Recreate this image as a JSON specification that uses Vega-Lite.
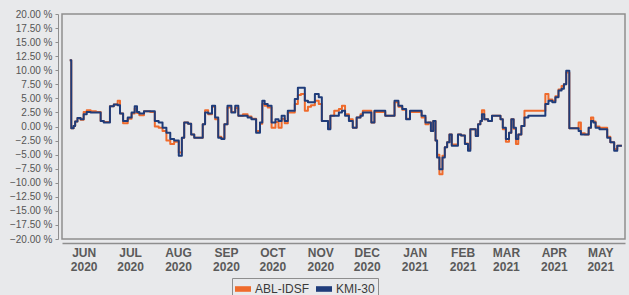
{
  "$schema": "https://vega.github.io/schema/vega-lite/v6.json",
  "width": 563,
  "height": 225,
  "autosize": {"type": "none"},
  "padding": {"left": 62, "top": 14, "right": 4, "bottom": 56},
  "background": "#e8e9eb",
  "config": {
    "view": {"stroke": "#8e8e8e", "strokeWidth": 1.5},
    "font": "Liberation Sans"
  },
  "data": {
    "values": [
      {"date": "2020-06-06", "ABL-IDSF": 11.8, "KMI-30": 11.8},
      {"date": "2020-06-08", "ABL-IDSF": -0.3, "KMI-30": -0.3},
      {"date": "2020-06-09", "ABL-IDSF": 0.1, "KMI-30": 0.1},
      {"date": "2020-06-10", "ABL-IDSF": 0.9, "KMI-30": 0.9},
      {"date": "2020-06-12", "ABL-IDSF": 1.5, "KMI-30": 1.5},
      {"date": "2020-06-14", "ABL-IDSF": 1.2, "KMI-30": 1.3},
      {"date": "2020-06-16", "ABL-IDSF": 2.6, "KMI-30": 2.2},
      {"date": "2020-06-18", "ABL-IDSF": 2.9, "KMI-30": 2.6},
      {"date": "2020-06-21", "ABL-IDSF": 2.7, "KMI-30": 2.5},
      {"date": "2020-06-25", "ABL-IDSF": 2.6, "KMI-30": 2.5},
      {"date": "2020-06-27", "ABL-IDSF": 1.0, "KMI-30": 1.0},
      {"date": "2020-06-29", "ABL-IDSF": 0.8, "KMI-30": 0.7},
      {"date": "2020-07-01", "ABL-IDSF": 0.8, "KMI-30": 0.7},
      {"date": "2020-07-03", "ABL-IDSF": 3.6, "KMI-30": 3.6},
      {"date": "2020-07-06", "ABL-IDSF": 3.9, "KMI-30": 3.9},
      {"date": "2020-07-08", "ABL-IDSF": 4.6, "KMI-30": 3.8},
      {"date": "2020-07-09", "ABL-IDSF": 2.3, "KMI-30": 2.3},
      {"date": "2020-07-12", "ABL-IDSF": 0.6, "KMI-30": 1.0},
      {"date": "2020-07-15", "ABL-IDSF": 1.4, "KMI-30": 1.6},
      {"date": "2020-07-17", "ABL-IDSF": 2.3, "KMI-30": 2.5},
      {"date": "2020-07-19", "ABL-IDSF": 3.2, "KMI-30": 3.6},
      {"date": "2020-07-20", "ABL-IDSF": 2.4, "KMI-30": 2.6},
      {"date": "2020-07-22", "ABL-IDSF": 2.0, "KMI-30": 2.3},
      {"date": "2020-07-26", "ABL-IDSF": 2.7, "KMI-30": 2.7},
      {"date": "2020-07-30", "ABL-IDSF": 2.6, "KMI-30": 2.7},
      {"date": "2020-08-01", "ABL-IDSF": 0.0, "KMI-30": 1.0},
      {"date": "2020-08-04", "ABL-IDSF": -0.2, "KMI-30": 0.7},
      {"date": "2020-08-06", "ABL-IDSF": -0.8, "KMI-30": -0.2},
      {"date": "2020-08-09", "ABL-IDSF": -2.5, "KMI-30": -1.1},
      {"date": "2020-08-11", "ABL-IDSF": -3.1, "KMI-30": -2.2},
      {"date": "2020-08-14", "ABL-IDSF": -2.7, "KMI-30": -2.5},
      {"date": "2020-08-17", "ABL-IDSF": -4.6, "KMI-30": -5.2},
      {"date": "2020-08-18", "ABL-IDSF": -2.0, "KMI-30": -2.0},
      {"date": "2020-08-20", "ABL-IDSF": 0.7, "KMI-30": 0.7},
      {"date": "2020-08-23", "ABL-IDSF": 0.5, "KMI-30": 0.5},
      {"date": "2020-08-24", "ABL-IDSF": -1.4, "KMI-30": -1.4},
      {"date": "2020-08-27", "ABL-IDSF": -2.0, "KMI-30": -2.0},
      {"date": "2020-08-30", "ABL-IDSF": -2.0, "KMI-30": -2.0},
      {"date": "2020-09-01", "ABL-IDSF": 0.4, "KMI-30": 0.4},
      {"date": "2020-09-02", "ABL-IDSF": 2.9, "KMI-30": 2.5},
      {"date": "2020-09-05", "ABL-IDSF": 2.2, "KMI-30": 2.3},
      {"date": "2020-09-07", "ABL-IDSF": 3.5, "KMI-30": 3.7},
      {"date": "2020-09-09", "ABL-IDSF": 1.3, "KMI-30": 1.6},
      {"date": "2020-09-11", "ABL-IDSF": -1.8, "KMI-30": -2.0},
      {"date": "2020-09-13", "ABL-IDSF": -2.1, "KMI-30": -2.2},
      {"date": "2020-09-15", "ABL-IDSF": 0.4, "KMI-30": 0.4},
      {"date": "2020-09-17", "ABL-IDSF": 3.4, "KMI-30": 3.7},
      {"date": "2020-09-20", "ABL-IDSF": 2.6, "KMI-30": 2.5},
      {"date": "2020-09-22", "ABL-IDSF": 3.3, "KMI-30": 3.7},
      {"date": "2020-09-24", "ABL-IDSF": 1.9, "KMI-30": 1.9},
      {"date": "2020-09-28", "ABL-IDSF": 2.2, "KMI-30": 1.9},
      {"date": "2020-09-30", "ABL-IDSF": 1.8, "KMI-30": 1.6},
      {"date": "2020-10-03", "ABL-IDSF": 1.4, "KMI-30": 1.3},
      {"date": "2020-10-06", "ABL-IDSF": -0.8, "KMI-30": -1.1},
      {"date": "2020-10-08", "ABL-IDSF": 0.5, "KMI-30": 0.7},
      {"date": "2020-10-09", "ABL-IDSF": 4.0, "KMI-30": 4.6},
      {"date": "2020-10-11", "ABL-IDSF": 3.7, "KMI-30": 4.0},
      {"date": "2020-10-13", "ABL-IDSF": 3.4, "KMI-30": 3.7},
      {"date": "2020-10-16", "ABL-IDSF": -0.2, "KMI-30": 0.7},
      {"date": "2020-10-18", "ABL-IDSF": 0.8, "KMI-30": 1.3},
      {"date": "2020-10-20", "ABL-IDSF": -0.2, "KMI-30": 1.0},
      {"date": "2020-10-22", "ABL-IDSF": 1.4, "KMI-30": 1.9},
      {"date": "2020-10-24", "ABL-IDSF": 0.6, "KMI-30": 1.0},
      {"date": "2020-10-26", "ABL-IDSF": 2.5, "KMI-30": 2.8},
      {"date": "2020-10-28", "ABL-IDSF": 2.5, "KMI-30": 2.8},
      {"date": "2020-10-31", "ABL-IDSF": 4.0, "KMI-30": 4.9},
      {"date": "2020-11-01", "ABL-IDSF": 5.6, "KMI-30": 6.9},
      {"date": "2020-11-04", "ABL-IDSF": 5.8, "KMI-30": 6.9},
      {"date": "2020-11-06", "ABL-IDSF": 2.8, "KMI-30": 4.6},
      {"date": "2020-11-08", "ABL-IDSF": 3.5, "KMI-30": 4.3},
      {"date": "2020-11-10", "ABL-IDSF": 3.8, "KMI-30": 4.3},
      {"date": "2020-11-13", "ABL-IDSF": 4.6, "KMI-30": 5.8},
      {"date": "2020-11-15", "ABL-IDSF": 4.0, "KMI-30": 5.2},
      {"date": "2020-11-17", "ABL-IDSF": 1.0, "KMI-30": 1.0},
      {"date": "2020-11-19", "ABL-IDSF": 1.0, "KMI-30": 1.0},
      {"date": "2020-11-21", "ABL-IDSF": -0.3, "KMI-30": -0.5},
      {"date": "2020-11-22", "ABL-IDSF": 1.9, "KMI-30": 1.9},
      {"date": "2020-11-26", "ABL-IDSF": 2.8, "KMI-30": 1.9},
      {"date": "2020-11-28", "ABL-IDSF": 3.1, "KMI-30": 2.5},
      {"date": "2020-11-30", "ABL-IDSF": 3.7, "KMI-30": 2.8},
      {"date": "2020-12-02", "ABL-IDSF": 2.2, "KMI-30": 1.9},
      {"date": "2020-12-05", "ABL-IDSF": 1.3, "KMI-30": 1.0},
      {"date": "2020-12-07", "ABL-IDSF": -0.2, "KMI-30": -0.2},
      {"date": "2020-12-10", "ABL-IDSF": 1.6, "KMI-30": 1.6},
      {"date": "2020-12-12", "ABL-IDSF": 2.2, "KMI-30": 1.9},
      {"date": "2020-12-13", "ABL-IDSF": 2.8, "KMI-30": 2.5},
      {"date": "2020-12-17", "ABL-IDSF": 2.8, "KMI-30": 2.5},
      {"date": "2020-12-19", "ABL-IDSF": 0.7, "KMI-30": 0.7},
      {"date": "2020-12-21", "ABL-IDSF": 2.6, "KMI-30": 2.8},
      {"date": "2020-12-26", "ABL-IDSF": 2.6, "KMI-30": 2.8},
      {"date": "2020-12-28", "ABL-IDSF": 1.9, "KMI-30": 1.9},
      {"date": "2021-01-01", "ABL-IDSF": 1.9, "KMI-30": 1.9},
      {"date": "2021-01-03", "ABL-IDSF": 4.3, "KMI-30": 4.6},
      {"date": "2021-01-06", "ABL-IDSF": 3.5, "KMI-30": 3.7},
      {"date": "2021-01-08", "ABL-IDSF": 3.0, "KMI-30": 3.1},
      {"date": "2021-01-11", "ABL-IDSF": 1.4, "KMI-30": 1.3},
      {"date": "2021-01-13", "ABL-IDSF": 2.6, "KMI-30": 2.8},
      {"date": "2021-01-18", "ABL-IDSF": 2.6, "KMI-30": 2.8},
      {"date": "2021-01-21", "ABL-IDSF": 1.6, "KMI-30": 1.9},
      {"date": "2021-01-23", "ABL-IDSF": 0.4, "KMI-30": 0.7},
      {"date": "2021-01-25", "ABL-IDSF": 0.7, "KMI-30": 0.7},
      {"date": "2021-01-26", "ABL-IDSF": -0.8, "KMI-30": -0.8},
      {"date": "2021-01-28", "ABL-IDSF": 1.0, "KMI-30": 1.0},
      {"date": "2021-01-29", "ABL-IDSF": -2.5, "KMI-30": -2.5},
      {"date": "2021-01-30", "ABL-IDSF": -5.0, "KMI-30": -5.5},
      {"date": "2021-02-01", "ABL-IDSF": -8.5, "KMI-30": -7.6},
      {"date": "2021-02-03", "ABL-IDSF": -5.2, "KMI-30": -5.5},
      {"date": "2021-02-04", "ABL-IDSF": -3.7, "KMI-30": -3.7},
      {"date": "2021-02-06", "ABL-IDSF": -2.8, "KMI-30": -2.8},
      {"date": "2021-02-07", "ABL-IDSF": -1.4, "KMI-30": -1.4},
      {"date": "2021-02-09", "ABL-IDSF": -3.2, "KMI-30": -3.4},
      {"date": "2021-02-11", "ABL-IDSF": -3.2, "KMI-30": -3.4},
      {"date": "2021-02-13", "ABL-IDSF": -1.4, "KMI-30": -1.4},
      {"date": "2021-02-15", "ABL-IDSF": -1.6, "KMI-30": -1.6},
      {"date": "2021-02-18", "ABL-IDSF": -3.0, "KMI-30": -3.1},
      {"date": "2021-02-19", "ABL-IDSF": -4.0, "KMI-30": -4.3},
      {"date": "2021-02-21", "ABL-IDSF": -0.5, "KMI-30": -0.5},
      {"date": "2021-02-23", "ABL-IDSF": -0.5, "KMI-30": -0.5},
      {"date": "2021-02-24", "ABL-IDSF": -1.7, "KMI-30": -1.7},
      {"date": "2021-02-26", "ABL-IDSF": 0.4, "KMI-30": 0.4},
      {"date": "2021-02-27", "ABL-IDSF": 1.0, "KMI-30": 1.0},
      {"date": "2021-02-28", "ABL-IDSF": 2.9, "KMI-30": 2.2},
      {"date": "2021-03-02", "ABL-IDSF": 1.3, "KMI-30": 1.3},
      {"date": "2021-03-05", "ABL-IDSF": 1.0, "KMI-30": 1.0},
      {"date": "2021-03-07", "ABL-IDSF": 1.9, "KMI-30": 1.9},
      {"date": "2021-03-11", "ABL-IDSF": 1.9, "KMI-30": 1.9},
      {"date": "2021-03-12", "ABL-IDSF": 1.3, "KMI-30": 1.3},
      {"date": "2021-03-14", "ABL-IDSF": -0.5, "KMI-30": -0.2},
      {"date": "2021-03-16", "ABL-IDSF": -2.7, "KMI-30": -2.2},
      {"date": "2021-03-18", "ABL-IDSF": -1.1, "KMI-30": -1.1},
      {"date": "2021-03-19", "ABL-IDSF": 1.3, "KMI-30": 1.3},
      {"date": "2021-03-21", "ABL-IDSF": -0.4, "KMI-30": -0.2},
      {"date": "2021-03-22", "ABL-IDSF": -3.1, "KMI-30": -2.2},
      {"date": "2021-03-24", "ABL-IDSF": -1.4, "KMI-30": -1.4},
      {"date": "2021-03-26", "ABL-IDSF": 0.1, "KMI-30": 0.1},
      {"date": "2021-03-28", "ABL-IDSF": 2.8, "KMI-30": 1.6},
      {"date": "2021-03-31", "ABL-IDSF": 2.8, "KMI-30": 1.9},
      {"date": "2021-04-09", "ABL-IDSF": 2.8, "KMI-30": 1.9},
      {"date": "2021-04-10", "ABL-IDSF": 5.8, "KMI-30": 4.0},
      {"date": "2021-04-13", "ABL-IDSF": 4.8, "KMI-30": 4.6},
      {"date": "2021-04-15", "ABL-IDSF": 4.6, "KMI-30": 4.3},
      {"date": "2021-04-17", "ABL-IDSF": 5.4, "KMI-30": 5.2},
      {"date": "2021-04-19", "ABL-IDSF": 6.6, "KMI-30": 6.4},
      {"date": "2021-04-21", "ABL-IDSF": 7.2, "KMI-30": 6.7},
      {"date": "2021-04-22", "ABL-IDSF": 7.5, "KMI-30": 7.5},
      {"date": "2021-04-24", "ABL-IDSF": 9.6, "KMI-30": 9.9},
      {"date": "2021-04-26", "ABL-IDSF": -0.3, "KMI-30": -0.3},
      {"date": "2021-04-30", "ABL-IDSF": -0.3, "KMI-30": -0.3},
      {"date": "2021-05-02", "ABL-IDSF": 0.7, "KMI-30": -0.8},
      {"date": "2021-05-03", "ABL-IDSF": -1.2, "KMI-30": -1.4},
      {"date": "2021-05-07", "ABL-IDSF": -1.4, "KMI-30": -1.4},
      {"date": "2021-05-08", "ABL-IDSF": -0.2, "KMI-30": -0.2},
      {"date": "2021-05-10", "ABL-IDSF": 1.6, "KMI-30": 1.0},
      {"date": "2021-05-11", "ABL-IDSF": 0.9, "KMI-30": 0.7},
      {"date": "2021-05-13", "ABL-IDSF": 0.0, "KMI-30": -0.2},
      {"date": "2021-05-16", "ABL-IDSF": -0.2, "KMI-30": -0.5},
      {"date": "2021-05-19", "ABL-IDSF": -0.2, "KMI-30": -0.5},
      {"date": "2021-05-20", "ABL-IDSF": -1.8, "KMI-30": -2.0},
      {"date": "2021-05-23", "ABL-IDSF": -2.8, "KMI-30": -2.8},
      {"date": "2021-05-25", "ABL-IDSF": -4.0, "KMI-30": -4.3},
      {"date": "2021-05-27", "ABL-IDSF": -3.4, "KMI-30": -3.4},
      {"date": "2021-05-29", "ABL-IDSF": -3.4, "KMI-30": -3.4}
    ]
  },
  "transform": [
    {"fold": ["ABL-IDSF", "KMI-30"], "as": ["series", "value"]}
  ],
  "mark": {"type": "line", "strokeWidth": 2, "interpolate": "step", "strokeJoin": "round"},
  "encoding": {
    "x": {
      "field": "date",
      "type": "temporal",
      "scale": {
        "type": "utc",
        "domain": [
          {"year": 2020, "month": 6, "date": 1, "utc": true},
          {"year": 2021, "month": 5, "date": 31, "utc": true}
        ]
      },
      "axis": {
        "title": null,
        "grid": false,
        "ticks": false,
        "offset": 4,
        "domainColor": "#8e8e8e",
        "domainWidth": 1.5,
        "values": [
          {"year": 2020, "month": 6, "date": 15, "utc": true},
          {"year": 2020, "month": 7, "date": 15, "utc": true},
          {"year": 2020, "month": 8, "date": 15, "utc": true},
          {"year": 2020, "month": 9, "date": 15, "utc": true},
          {"year": 2020, "month": 10, "date": 15, "utc": true},
          {"year": 2020, "month": 11, "date": 15, "utc": true},
          {"year": 2020, "month": 12, "date": 15, "utc": true},
          {"year": 2021, "month": 1, "date": 15, "utc": true},
          {"year": 2021, "month": 2, "date": 15, "utc": true},
          {"year": 2021, "month": 3, "date": 15, "utc": true},
          {"year": 2021, "month": 4, "date": 15, "utc": true},
          {"year": 2021, "month": 5, "date": 15, "utc": true}
        ],
        "labelExpr": "[upper(utcFormat(datum.value, '%b')), utcFormat(datum.value, '%Y')]",
        "labelFontSize": 12,
        "labelFontWeight": "bold",
        "labelColor": "#5a5a5a",
        "labelLineHeight": 14,
        "labelPadding": 4,
        "labelOverlap": false,
        "labelFlush": false
      }
    },
    "y": {
      "field": "value",
      "type": "quantitative",
      "scale": {"domain": [-20, 20], "nice": false, "zero": false},
      "axis": {
        "title": null,
        "grid": false,
        "offset": 4,
        "values": [-20, -17.5, -15, -12.5, -10, -7.5, -5, -2.5, 0, 2.5, 5, 7.5, 10, 12.5, 15, 17.5, 20],
        "labelExpr": "format(datum.value, '.2f') + ' %'",
        "labelFontSize": 10,
        "labelColor": "#555555",
        "tickColor": "#8e8e8e",
        "tickSize": 3,
        "domainColor": "#8e8e8e",
        "labelPadding": 3
      }
    },
    "color": {
      "field": "series",
      "type": "nominal",
      "scale": {"domain": ["ABL-IDSF", "KMI-30"], "range": ["#ef6b2c", "#1f3c7a"]},
      "legend": {
        "title": null,
        "orient": "none",
        "legendX": 170,
        "legendY": 264,
        "direction": "horizontal",
        "strokeColor": "#8e8e8e",
        "padding": 3,
        "labelFontSize": 12,
        "labelColor": "#3a3a3a",
        "columnPadding": 6,
        "symbolType": "M-1,-0.35H1V0.35H-1Z",
        "symbolSize": 256,
        "symbolStrokeWidth": 0,
        "encode": {
          "symbols": {"update": {"fill": {"scale": "color", "field": "value"}, "fillOpacity": {"value": 1}}}
        }
      }
    }
  }
}
